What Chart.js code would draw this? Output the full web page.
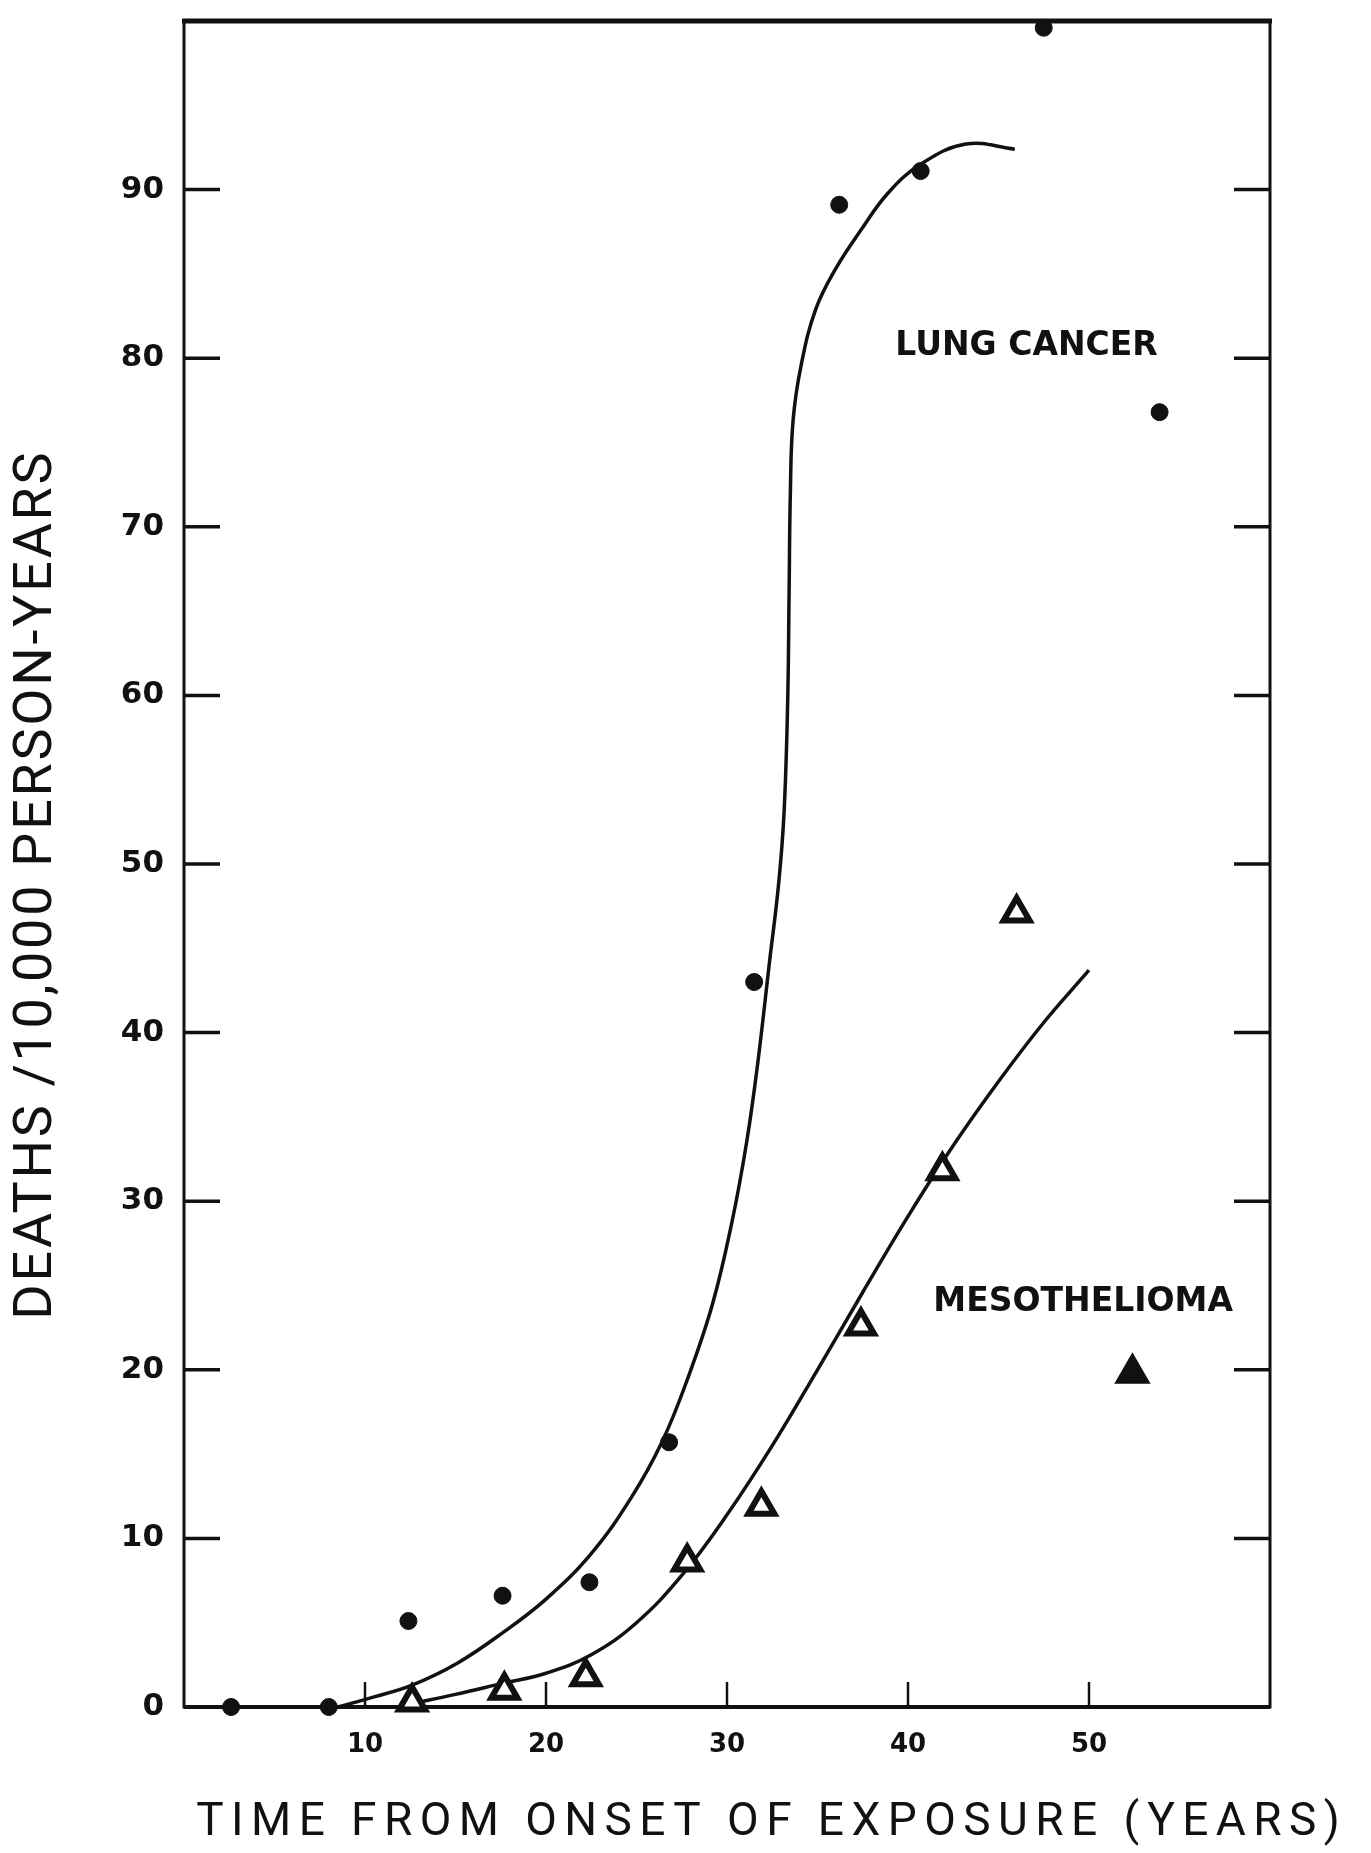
<!DOCTYPE html>
<html>
<head>
<meta charset="utf-8">
<script src="https://cdn.jsdelivr.net/npm/chart.js@4.4.1/dist/chart.umd.min.js"></script>
<style>
  html, body { margin:0; padding:0; background:#fff; }
  canvas { display:block; }
</style>
</head>
<body>
<canvas id="chart" width="1371" height="1853"></canvas>
<script>
// Observed rates (deaths / 10,000 person-years)
const lungX = [2.6, 8.0, 12.4, 17.6, 22.4, 26.8, 31.5, 36.2, 40.7, 47.5, 53.9];
const lungY = [0, 0, 5.1, 6.6, 7.4, 15.7, 43.0, 89.1, 91.1, 99.6, 76.8];
const mesoX = [12.6, 17.7, 22.2, 27.8, 31.9, 37.4, 41.9, 46.0, 52.4];
const mesoY = [0.3, 1.0, 1.8, 8.6, 11.9, 22.6, 31.8, 47.1, 19.8];

// Fitted curves
const lungCurveX = [8.5, 10.5, 12.6, 15.1, 17.6, 20, 22.5, 24.7, 26.4, 27.8, 29.2, 30.3, 31.1, 31.7, 32.35, 32.85, 33.15, 33.35, 33.43, 33.5, 33.65, 34.1, 34.9, 36.0, 37.4, 38.9, 40.7, 43.2, 45.9];
const lungCurveY = [0, 0.6, 1.3, 2.6, 4.4, 6.4, 9.1, 12.4, 15.7, 19.4, 23.9, 28.9, 33.6, 38.2, 44.2, 48.8, 53.0, 59.5, 66.0, 72.0, 76.3, 79.6, 82.9, 85.3, 87.6, 89.8, 91.5, 92.7, 92.4];
const mesoCurveX = [12.6, 15, 17.6, 20, 22.5, 25, 27.5, 30, 32.5, 35, 37.5, 40, 42.5, 45, 47.5, 50];
const mesoCurveY = [0.2, 0.75, 1.4, 2.0, 3.1, 5.0, 7.8, 11.4, 15.5, 20.0, 24.6, 29.1, 33.3, 37.1, 40.6, 43.7];

// Axes
const xTickValues = [10, 20, 30, 40, 50];
const yTickValues = [0, 10, 20, 30, 40, 50, 60, 70, 80, 90];
const xTitle = 'TIME FROM ONSET OF EXPOSURE (YEARS)';
const yTitle = 'DEATHS /10,000 PERSON-YEARS';

// Curve labels
const curveLabels = ['LUNG CANCER', 'MESOTHELIOMA'];
const curveLabelX = [39.3, 41.4];
const curveLabelY = [80.7, 24.0];

const toXY = (xs, ys) => xs.map((x, i) => ({ x: x, y: ys[i] }));
const INK = '#111';

// spread a title so it covers the given width
function spacedText(ctx, text, x, y, width) {
    ctx.letterSpacing = '0px';
    const w = ctx.measureText(text).width;
    const ls = Math.max(0, (width - w) / text.length);
    ctx.letterSpacing = ls + 'px';
    ctx.fillText(text, x + ls / 2, y);
    ctx.letterSpacing = '0px';
}

// frame, inside ticks, curve labels and axis titles
const framePlugin = {
    id: 'frame',
    beforeDatasetsDraw(chart) {
        const { ctx, chartArea: a, scales: { x, y } } = chart;
        ctx.save();
        ctx.strokeStyle = INK;
        ctx.lineCap = 'butt';
        ctx.lineWidth = 3;
        ctx.strokeRect(a.left, a.top, a.right - a.left, a.bottom - a.top);
        ctx.lineWidth = 5;
        ctx.beginPath(); ctx.moveTo(a.left - 2, a.top); ctx.lineTo(a.right + 2, a.top); ctx.stroke();
        ctx.lineWidth = 4;
        ctx.beginPath(); ctx.moveTo(a.left, a.bottom); ctx.lineTo(a.right, a.bottom); ctx.stroke();
        // y ticks on both sides, pointing in
        ctx.lineWidth = 3.5;
        yTickValues.filter(v => v > 0).forEach(v => {
            const py = y.getPixelForValue(v);
            ctx.beginPath();
            ctx.moveTo(a.left, py); ctx.lineTo(a.left + 36, py);
            ctx.moveTo(a.right - 36, py); ctx.lineTo(a.right, py);
            ctx.stroke();
        });
        // x ticks, pointing up
        ctx.lineWidth = 2.5;
        xTickValues.forEach(v => {
            const px = x.getPixelForValue(v);
            ctx.beginPath(); ctx.moveTo(px, a.bottom); ctx.lineTo(px, a.bottom - 25); ctx.stroke();
        });
        ctx.restore();
    },
    afterDatasetsDraw(chart) {
        const { ctx, scales: { x, y } } = chart;
        ctx.save();
        ctx.fillStyle = INK;
        ctx.font = 'bold 33px "DejaVu Sans"';
        ctx.textAlign = 'left';
        ctx.textBaseline = 'middle';
        curveLabels.forEach((t, i) => {
            ctx.fillText(t, x.getPixelForValue(curveLabelX[i]), y.getPixelForValue(curveLabelY[i]));
        });
        // axis titles
        ctx.textAlign = 'center';
        ctx.font = '400 46px Roboto';
        spacedText(ctx, xTitle, 768, 1823, 1151);
        ctx.translate(37, 886);
        ctx.rotate(-Math.PI / 2);
        ctx.font = '400 54px Roboto';
        spacedText(ctx, yTitle, 0, 0, 870);
        ctx.restore();
    }
};

new Chart(document.getElementById('chart'), {
    type: 'scatter',
    data: {
        datasets: [
            { label: 'Lung cancer', data: toXY(lungX, lungY),
              pointStyle: 'circle', pointRadius: 8.5, pointBackgroundColor: INK, pointBorderColor: INK,
              pointBorderWidth: 1, clip: false },
            { label: 'Mesothelioma', data: toXY(mesoX, mesoY),
              pointStyle: 'triangle', pointRadius: 15, pointBorderColor: INK, pointBorderWidth: 6,
              pointBackgroundColor: mesoX.map((_, i) => i === mesoX.length - 1 ? INK : '#fff'), clip: false },
            { label: 'Lung cancer fit', data: toXY(lungCurveX, lungCurveY), showLine: true,
              borderColor: INK, borderWidth: 3.5, pointRadius: 0, tension: 0.4 },
            { label: 'Mesothelioma fit', data: toXY(mesoCurveX, mesoCurveY), showLine: true,
              borderColor: INK, borderWidth: 3.5, pointRadius: 0, tension: 0.4 }
        ]
    },
    options: {
        responsive: false,
        animation: false,
        layout: { padding: { left: 0, right: 101, top: 14, bottom: 0 } },
        plugins: { legend: { display: false }, tooltip: { enabled: false } },
        scales: {
            x: {
                type: 'linear', min: 0, max: 60,
                afterBuildTicks: s => { s.ticks = xTickValues.map(v => ({ value: v })); },
                afterFit: s => { s.height = 146; s.paddingLeft = 0; s.paddingRight = 0; },
                grid: { display: false, drawTicks: false },
                border: { display: false },
                ticks: { color: INK, padding: 23, font: { family: 'DejaVu Sans', size: 26, weight: 'bold' } }
            },
            y: {
                type: 'linear', min: 0, max: 100,
                afterBuildTicks: s => { s.ticks = yTickValues.map(v => ({ value: v })); },
                afterFit: s => { s.width = 184; s.paddingTop = 0; s.paddingBottom = 0; },
                grid: { display: false, drawTicks: false },
                border: { display: false },
                ticks: { color: INK, padding: 20, font: { family: 'DejaVu Sans', size: 31, weight: 'bold' } }
            }
        }
    },
    plugins: [framePlugin]
});
</script>
</body>
</html>
